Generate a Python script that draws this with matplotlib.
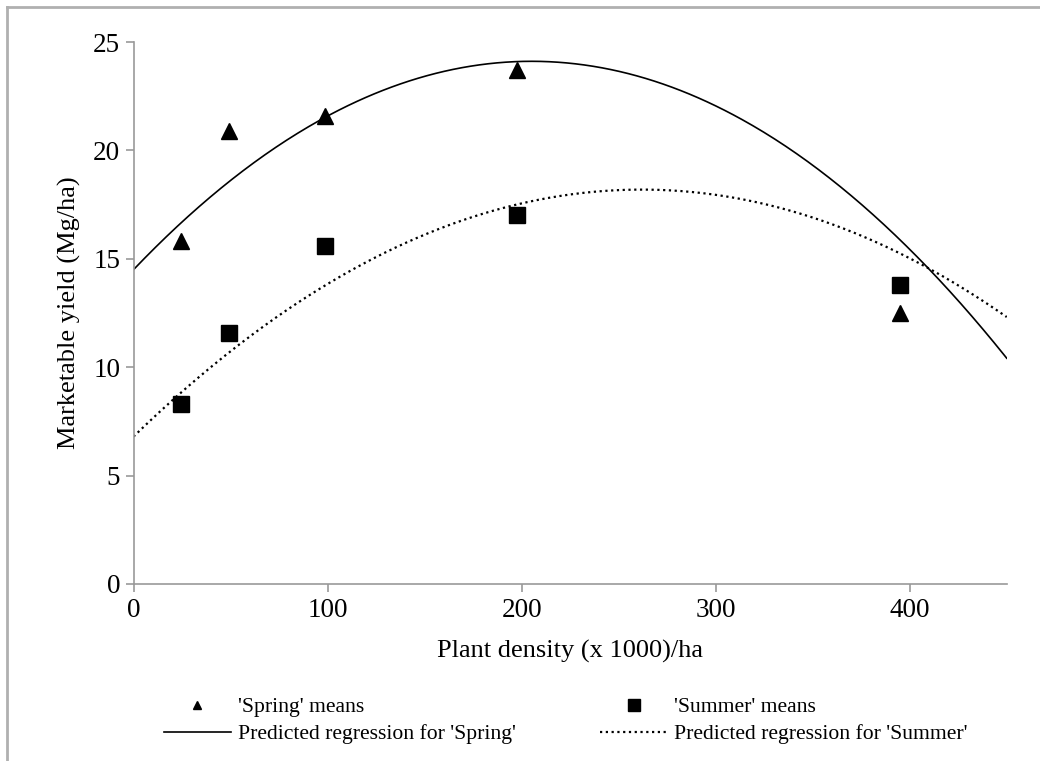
import matplotlib
matplotlib.use('Agg')
import numpy as np
import matplotlib.pyplot as plt
from matplotlib.lines import Line2D

plt.rcParams['font.family'] = ['Liberation Serif', 'DejaVu Serif']

# plant density (x 1000)/ha
density = [24.7, 49.4, 98.8, 197.5, 395]
spring_means = [15.8, 20.9, 21.6, 23.7, 12.5]
summer_means = [8.3, 11.6, 15.6, 17.0, 13.8]

# quadratic regression coefficients (a + b*x + c*x^2)
spring_coef = [14.5, 0.0937, -2.284e-4]
summer_coef = [6.8, 0.0870, -1.661e-4]

xticks = [0, 100, 200, 300, 400]
yticks = [0, 5, 10, 15, 20, 25]

fig = plt.figure(figsize=(10.4, 7.61), dpi=100)
ax = fig.add_axes([0.1284, 0.2326, 0.8396, 0.7122])

xs = np.linspace(0, 450, 400)
def poly(coef, x):
    return coef[0] + coef[1]*x + coef[2]*x**2

ax.plot(xs, poly(spring_coef, xs), color='black', lw=1.2)
ax.plot(xs, poly(summer_coef, xs), color='black', lw=1.6, linestyle=(0, (1, 1.6)))
ax.plot(density, spring_means, '^', color='black', ms=11, ls='none')
ax.plot(density, summer_means, 's', color='black', ms=11.5, ls='none')

ax.set_xlim(0, 450)
ax.set_ylim(0, 25)
ax.set_xticks(xticks)
ax.set_yticks(yticks)
for s in ['top', 'right']:
    ax.spines[s].set_visible(False)
for s in ['left', 'bottom']:
    ax.spines[s].set_color('#999999')
    ax.spines[s].set_linewidth(1.2)
ax.tick_params(colors='#999999', labelcolor='black', labelsize=19.5, length=6, width=1.2)
ax.tick_params(axis='x', pad=4)
ax.set_xlabel('Plant density (x 1000)/ha', fontsize=19, labelpad=12)
ax.set_ylabel('Marketable yield (Mg/ha)', fontsize=19, labelpad=9)

handles = [
    Line2D([], [], marker='^', color='black', ls='none', ms=6),
    Line2D([], [], color='black', lw=1.2),
    Line2D([], [], marker='s', color='black', ls='none', ms=8),
    Line2D([], [], color='black', lw=1.6, linestyle=(0, (1, 1.6))),
]
labels = ["'Spring' means", "Predicted regression for 'Spring'",
          "'Summer' means", "Predicted regression for 'Summer'"]
fig.legend(handles, labels, ncol=2, frameon=False, fontsize=15.6,
           loc='center left', bbox_to_anchor=(0.149, 0.053),
           handlelength=3.1, handletextpad=0.32, columnspacing=3.9,
           labelspacing=0.3, borderaxespad=0)

# light grey frame (left and top edges visible)
fig.add_artist(Line2D([0.0067, 0.0067], [0, 0.991], transform=fig.transFigure,
                      color='#b0b0b0', lw=2))
fig.add_artist(Line2D([0.0067, 1], [0.991, 0.991], transform=fig.transFigure,
                      color='#b0b0b0', lw=2))

fig.savefig('out.png', dpi=100)
